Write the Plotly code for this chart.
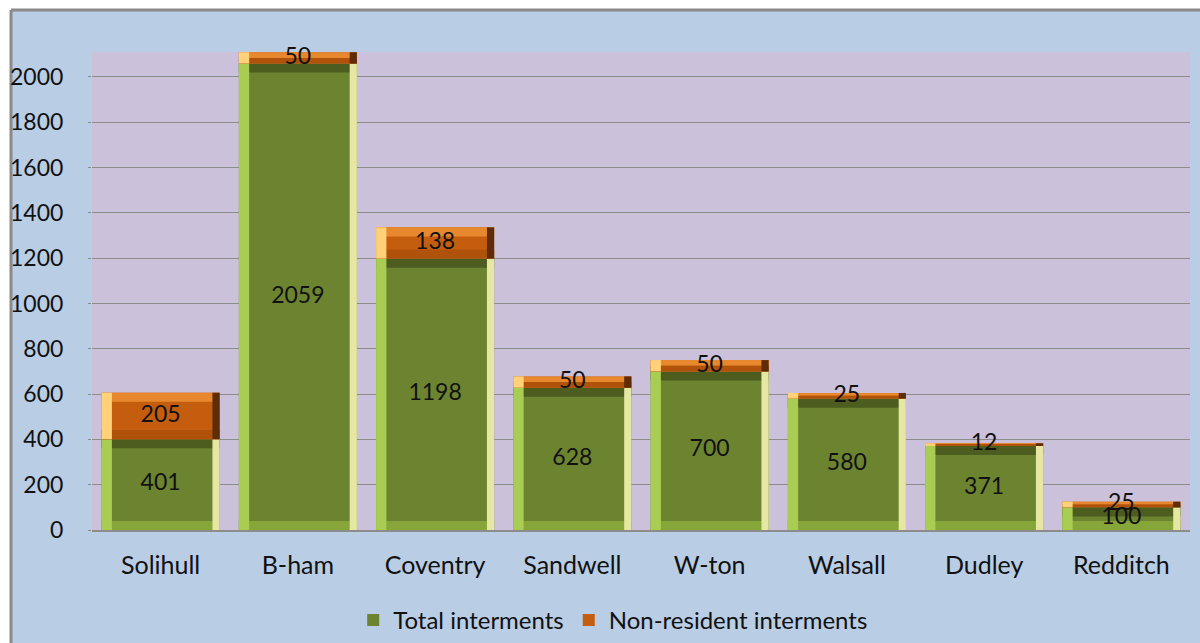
import plotly.graph_objects as go

categories = ["Solihull", "B-ham", "Coventry", "Sandwell", "W-ton", "Walsall", "Dudley", "Redditch"]
total_interments = [401, 2059, 1198, 628, 700, 580, 371, 100]
nonresident_interments = [205, 50, 138, 50, 50, 25, 12, 25]
y_ticks = list(range(0, 2001, 200))

FONT = "Lato"
NUM_SIZE = 23
TXT_SIZE = 24
CAT_SIZE = 25
W = 0.86       # bar width (category units)
BX = 0.075     # side bevel width (category units)
BY = 40        # top/bottom bevel height (data units)
YMAX = 2110

green = dict(body="#6C8430", top="#4C5D1F", bottom="#86A63A", left="#A9CD52", right="#E6E7A2")
orange = dict(body="#C45E0E", top="#E8882E", bottom="#B0520A", left="#FFD27A", right="#5E2C06")

fig = go.Figure()


def add_segment(values, bases, colors, name, legendrank):
    # main body
    fig.add_trace(go.Bar(x=categories, y=values, base=bases, width=W, offset=-W / 2,
                         marker=dict(color=colors["body"], line=dict(width=0)),
                         name=name, showlegend=True, legendrank=legendrank, hoverinfo="skip"))
    b = [min(BY, v / 2) for v in values]
    # top strip
    fig.add_trace(go.Bar(x=categories, y=b, base=[s + v - h for s, v, h in zip(bases, values, b)],
                         width=W, offset=-W / 2, marker=dict(color=colors["top"], line=dict(width=0)),
                         showlegend=False, hoverinfo="skip"))
    # bottom strip
    fig.add_trace(go.Bar(x=categories, y=b, base=bases, width=W, offset=-W / 2,
                         marker=dict(color=colors["bottom"], line=dict(width=0)),
                         showlegend=False, hoverinfo="skip"))
    # left strip
    fig.add_trace(go.Bar(x=categories, y=values, base=bases, width=BX, offset=-W / 2,
                         marker=dict(color=colors["left"], line=dict(width=0)),
                         showlegend=False, hoverinfo="skip"))
    # right strip
    fig.add_trace(go.Bar(x=categories, y=values, base=bases, width=BX * 0.7, offset=W / 2 - BX * 0.7,
                         marker=dict(color=colors["right"], line=dict(width=0)),
                         showlegend=False, hoverinfo="skip"))


add_segment(total_interments, [0] * len(categories), green, "Total interments", 1)
add_segment(nonresident_interments, total_interments, orange, "Non-resident interments", 2)

# value labels
fig.add_trace(go.Scatter(x=categories, y=[v / 2 for v in total_interments], mode="text",
                         text=[str(v) for v in total_interments], cliponaxis=False,
                         textfont=dict(family=FONT, size=NUM_SIZE, color="#111111"),
                         showlegend=False, hoverinfo="skip"))
fig.add_trace(go.Scatter(x=categories,
                         y=[t + n / 2 for t, n in zip(total_interments, nonresident_interments)],
                         mode="text", text=[str(v) for v in nonresident_interments], cliponaxis=False,
                         textfont=dict(family=FONT, size=NUM_SIZE, color="#111111"),
                         showlegend=False, hoverinfo="skip"))

# chart-area frame (offset border as in the reference)
L, R, T, B = 92, 10, 52, 113
PW, PH = 1200 - L - R, 643 - T - B


def px_x(p):
    return (p - L) / PW


def px_y(p):
    return (643 - B - p) / PH


shapes = [
    dict(type="rect", xref="paper", yref="paper", x0=px_x(-20), x1=px_x(11), y0=px_y(700), y1=px_y(-20),
         fillcolor="white", line=dict(width=0), layer="below"),
    dict(type="rect", xref="paper", yref="paper", x0=px_x(-20), x1=px_x(1220), y0=px_y(10), y1=px_y(-20),
         fillcolor="white", line=dict(width=0), layer="below"),
    dict(type="line", xref="paper", yref="paper", x0=px_x(11), x1=px_x(11), y0=px_y(700), y1=px_y(10),
         line=dict(color="#8A8A8A", width=3), layer="below"),
    dict(type="line", xref="paper", yref="paper", x0=px_x(11), x1=px_x(1220), y0=px_y(10), y1=px_y(10),
         line=dict(color="#8A8A8A", width=3), layer="below"),
]

fig.update_layout(
    width=1200, height=643,
    margin=dict(l=L, r=R, t=T, b=B, autoexpand=False),
    barmode="overlay",
    paper_bgcolor="#B9CDE5",
    plot_bgcolor="#CCC1DA",
    font=dict(family=FONT, size=TXT_SIZE, color="#111111"),
    shapes=shapes,
    showlegend=True,
    legend=dict(orientation="h", xref="container", yref="container", x=0.511, y=0.035,
                xanchor="center", yanchor="middle", bgcolor="rgba(0,0,0,0)",
                font=dict(family=FONT, size=TXT_SIZE, color="#111111"), itemwidth=30,
                traceorder="normal"),
)

fig.update_xaxes(type="category", categoryorder="array", categoryarray=categories,
                 showgrid=False, showline=True, linecolor="#8C8C8C", linewidth=1.5,
                 ticks="", ticklabelstandoff=12, tickfont=dict(family=FONT, size=CAT_SIZE, color="#111111"),
                 range=[-0.5, len(categories) - 0.5])
fig.update_yaxes(range=[0, YMAX], tickvals=y_ticks, ticktext=[str(v) for v in y_ticks],
                 showgrid=True, gridcolor="#8C8C8C", gridwidth=1.2,
                 ticks="outside", ticklen=3, tickcolor="#8C8C8C",
                 ticklabelstandoff=20, zeroline=False, showline=False,
                 tickfont=dict(family=FONT, size=NUM_SIZE, color="#111111"))

fig.write_html("out.html", config={"displayModeBar": False},
               post_script="document.body.style.margin='0';document.body.style.overflow='hidden';")
